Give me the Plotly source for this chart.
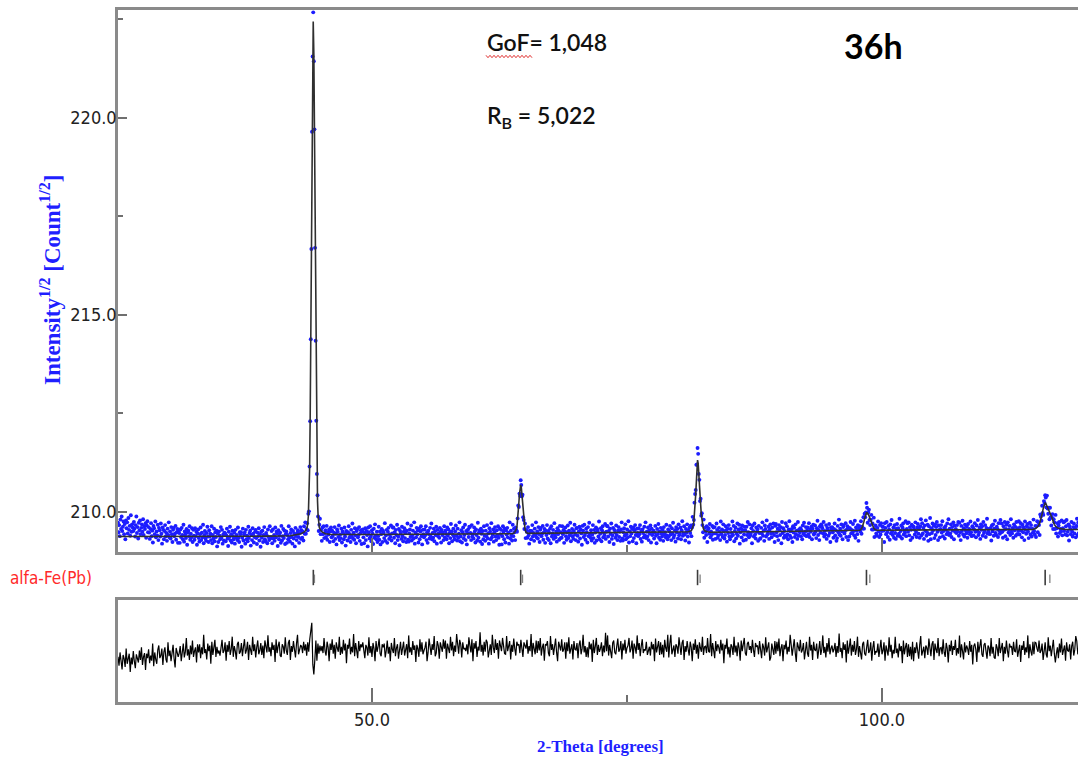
import plotly.graph_objects as go

W, H = 1078, 762

# ---- scan geometry (degrees 2-theta) ----
OBS_START, OBS_STEP = 25.10, 0.06
DIFF_START, DIFF_STEP = 25.10, 0.10
Y_BASE = 209.0          # observed / calculated values are stored in 0.01 units above this

# ---- observed sqrt-intensity, 0.01 units above 209.00 (25 points per row) ----
obs_counts = [
    72, 48, 66, 38, 80, 56, 88, 51, 62, 75, 43, 69, 30, 78, 58, 73, 45, 84, 54, 64, 39, 91, 49, 68, 60,
    51, 74, 57, 37, 66, 88, 46, 61, 32, 72, 53, 78, 43, 59, 68, 49, 81, 41, 63, 56, 71, 34, 65, 76, 48,
    61, 47, 31, 56, 71, 38, 52, 22, 64, 58, 43, 75, 35, 50, 40, 67, 28, 59, 53, 37, 70, 44, 19, 60, 54,
    30, 51, 66, 37, 46, 26, 57, 41, 73, 35, 50, 32, 61, 43, 23, 54, 59, 38, 44, 64, 29, 48, 56, 21, 52,
    46, 21, 55, 36, 59, 41, 30, 67, 24, 50, 42, 33, 56, 16, 48, 52, 38, 63, 29, 44, 35, 58, 23, 54, 39,
    29, 58, 38, 49, 16, 45, 55, 33, 24, 43, 60, 28, 47, 35, 67, 20, 41, 51, 32, 26, 46, 62, 37, 23, 53,
    37, 44, 28, 63, 20, 41, 32, 57, 25, 48, 36, 52, 12, 45, 23, 50, 39, 30, 61, 34, 54, 19, 42, 27, 47,
    45, 25, 40, 57, 32, 13, 49, 36, 62, 27, 43, 22, 52, 38, 30, 47, 19, 54, 35, 41, 28, 60, 33, 23, 48,
    43, 48, 11, 34, 57, 27, 42, 47, 19, 54, 30, 39, 25, 62, 33, 46, 52, 14, 41, 28, 58, 44, 22, 36, 49,
    54, 33, 18, 47, 38, 58, 27, 43, 11, 49, 34, 52, 23, 41, 61, 30, 25, 46, 40, 20, 55, 36, 28, 63, 32,
    36, 51, 20, 55, 32, 41, 26, 60, 35, 49, 45, 13, 53, 30, 39, 47, 21, 64, 27, 38, 56, 33, 52, 18, 43,
    50, 21, 41, 30, 63, 34, 24, 46, 55, 36, 19, 51, 32, 44, 12, 59, 38, 28, 47, 53, 36, 21, 46, 61, 31,
    53, 34, 49, 27, 63, 44, 73, 44, 56, 71, 53, 95, 101, 215, 330, 538, 767, 1065, 1256, 1368, 1244, 1071, 770, 534, 331,
    196, 142, 88, 51, 67, 82, 43, 54, 26, 60, 43, 63, 33, 46, 53, 36, 64, 29, 48, 42, 55, 23, 50, 60, 35,
    52, 39, 25, 47, 61, 31, 44, 17, 55, 49, 36, 65, 28, 42, 33, 57, 22, 50, 45, 30, 60, 37, 14, 51, 46,
    27, 48, 63, 34, 43, 23, 54, 38, 70, 32, 47, 29, 58, 40, 20, 51, 56, 35, 41, 61, 26, 45, 53, 18, 49,
    55, 35, 20, 46, 58, 28, 51, 41, 12, 60, 48, 32, 63, 37, 25, 53, 44, 18, 57, 34, 68, 39, 30, 49, 23,
    38, 62, 29, 50, 17, 43, 56, 23, 52, 47, 33, 71, 26, 40, 54, 21, 49, 59, 31, 42, 36, 65, 27, 45, 60,
    60, 34, 48, 20, 54, 41, 67, 28, 37, 56, 15, 51, 44, 31, 62, 38, 25, 49, 58, 33, 46, 23, 52, 70, 29,
    24, 45, 55, 36, 65, 27, 40, 52, 32, 73, 19, 47, 35, 59, 42, 53, 22, 57, 30, 50, 63, 38, 17, 54, 43,
    35, 55, 40, 63, 28, 48, 21, 52, 43, 32, 59, 37, 70, 30, 46, 34, 57, 25, 50, 41, 62, 19, 54, 38, 45,
    34, 59, 49, 22, 54, 41, 47, 28, 63, 35, 52, 44, 30, 60, 39, 55, 20, 46, 33, 69, 50, 25, 42, 57, 37,
    30, 50, 65, 39, 27, 57, 34, 44, 73, 25, 37, 53, 22, 48, 60, 32, 41, 67, 28, 51, 17, 46, 55, 36, 62,
    61, 46, 28, 66, 37, 43, 32, 60, 50, 22, 55, 41, 27, 72, 34, 48, 53, 24, 57, 44, 18, 51, 30, 63, 39,
    26, 52, 38, 66, 32, 45, 19, 58, 49, 30, 71, 35, 42, 55, 24, 48, 61, 37, 28, 53, 40, 63, 34, 16, 57,
    43, 54, 17, 38, 63, 50, 30, 57, 22, 53, 42, 59, 35, 47, 19, 73, 32, 52, 40, 27, 67, 38, 57, 48, 28,
    60, 53, 49, 83, 116, 112, 146, 140, 180, 168, 139, 143, 86, 79, 56, 70, 33, 54, 49, 34, 61, 40, 19, 52, 48,
    30, 51, 66, 37, 46, 26, 57, 41, 73, 35, 50, 32, 61, 43, 23, 54, 59, 38, 44, 64, 29, 48, 56, 21, 52,
    41, 66, 32, 51, 28, 46, 57, 20, 63, 37, 45, 54, 31, 71, 39, 35, 49, 24, 58, 43, 52, 29, 64, 33, 48,
    34, 63, 43, 54, 21, 50, 60, 38, 29, 48, 65, 33, 52, 40, 72, 25, 46, 56, 37, 31, 51, 67, 42, 28, 58,
    59, 39, 24, 50, 62, 32, 55, 45, 16, 64, 52, 36, 67, 41, 29, 57, 48, 22, 61, 38, 72, 43, 34, 53, 27,
    42, 66, 33, 54, 21, 47, 60, 27, 56, 51, 37, 75, 30, 44, 58, 25, 53, 63, 35, 46, 40, 69, 31, 49, 64,
    63, 37, 51, 23, 57, 44, 70, 31, 40, 59, 18, 54, 47, 34, 65, 41, 28, 52, 61, 36, 49, 26, 55, 73, 32,
    27, 48, 58, 39, 68, 30, 43, 55, 35, 76, 22, 50, 38, 62, 45, 56, 25, 60, 33, 53, 66, 41, 20, 57, 46,
    38, 58, 43, 66, 31, 51, 24, 55, 46, 35, 62, 40, 73, 33, 49, 37, 60, 28, 53, 44, 65, 22, 57, 41, 48,
    52, 32, 47, 64, 39, 20, 56, 43, 69, 34, 50, 29, 59, 45, 37, 54, 26, 61, 42, 48, 35, 67, 40, 30, 55,
    37, 50, 64, 42, 28, 58, 45, 72, 34, 40, 53, 24, 61, 47, 56, 32, 68, 40, 45, 60, 30, 53, 76, 39, 45,
    63, 42, 27, 56, 47, 68, 37, 53, 22, 60, 46, 65, 38, 60, 87, 67, 79, 123, 145, 155, 219, 220, 262, 247, 196,
    181, 127, 133, 90, 96, 66, 48, 80, 34, 59, 50, 41, 63, 23, 54, 58, 44, 69, 35, 50, 41, 64, 29, 60, 45,
    61, 31, 45, 70, 54, 34, 40, 59, 49, 28, 75, 43, 55, 36, 68, 51, 32, 41, 63, 53, 24, 57, 46, 66, 37,
    30, 56, 37, 46, 75, 41, 64, 25, 51, 60, 32, 44, 70, 39, 55, 67, 19, 48, 58, 35, 65, 53, 27, 42, 62,
    53, 29, 62, 41, 74, 48, 35, 68, 39, 44, 58, 20, 65, 51, 37, 70, 42, 32, 60, 49, 55, 26, 64, 46, 31,
    33, 59, 45, 73, 39, 52, 26, 65, 56, 37, 78, 42, 49, 62, 31, 55, 68, 44, 35, 60, 47, 70, 41, 23, 64,
    69, 48, 38, 57, 28, 66, 53, 41, 61, 20, 74, 46, 58, 34, 51, 40, 71, 36, 63, 43, 30, 55, 76, 39, 50,
    34, 56, 23, 63, 47, 59, 36, 68, 43, 52, 31, 74, 39, 55, 48, 58, 38, 53, 30, 65, 45, 72, 41, 50, 61,
    38, 52, 60, 43, 71, 36, 55, 49, 62, 30, 57, 67, 42, 45, 65, 50, 33, 58, 77, 41, 54, 28, 63, 47, 68,
    64, 58, 45, 74, 37, 51, 42, 66, 31, 59, 54, 39, 69, 46, 23, 60, 55, 61, 48, 34, 56, 70, 40, 53, 26,
    33, 64, 48, 80, 42, 57, 39, 68, 50, 30, 61, 66, 45, 51, 71, 36, 55, 63, 28, 59, 37, 58, 74, 45, 54,
    46, 69, 51, 40, 77, 34, 60, 52, 43, 66, 26, 58, 63, 50, 76, 44, 62, 57, 86, 57, 95, 86, 98, 122, 110,
    72, 98, 105, 79, 66, 80, 92, 55, 70, 55, 85, 36, 56, 65, 45, 39, 59, 75, 50, 36, 66, 42, 71, 51, 62,
    62, 52, 23, 71, 59, 43, 74, 48, 36, 64, 55, 29, 68, 45, 79, 50, 41, 60, 34, 66, 46, 31, 57, 69, 39,
    58, 44, 82, 37, 51, 65, 32, 60, 70, 42, 53, 47, 76, 38, 56, 71, 49, 73, 40, 61, 28, 54, 67, 34, 63,
    62, 55, 42, 73, 49, 36, 60, 69, 44, 57, 34, 63, 81, 40, 71, 45, 59, 31, 65, 52, 78, 39, 48, 67, 26,
    63, 43, 84, 30, 58, 46, 70, 53, 64, 33, 68, 41, 61, 74, 49, 28, 65, 54, 35, 56, 66, 47, 76, 38, 51,
    59, 32, 63, 54, 43, 70, 48, 81, 41, 57, 45, 68, 36, 61, 52, 73, 30, 65, 49, 56, 46, 66, 51, 74, 39,
    72, 47, 28, 64, 51, 77, 42, 58, 37, 67, 53, 45, 62, 34, 69, 50, 56, 43, 75, 48, 38, 63, 60, 40, 55,
    71, 49, 35, 65, 52, 79, 41, 47, 60, 31, 68, 54, 63, 39, 74, 46, 51, 66, 36, 59, 82, 45, 50, 44, 57,
    43, 59, 27, 65, 50, 68, 39, 57, 77, 46, 41, 62, 56, 36, 71, 52, 44, 79, 48, 70, 49, 34, 63, 54, 74,
    38, 56, 67, 30, 73, 47, 55, 64, 41, 81, 49, 45, 59, 34, 68, 53, 62, 39, 74, 43, 58, 51, 76, 42, 61,
    71, 52, 35, 67, 48, 60, 28, 75, 54, 44, 63, 69, 49, 33, 58, 72, 42, 66, 37, 57, 47, 80, 51, 42, 64,
    36, 63, 76, 48, 73, 66, 41, 93, 87, 77, 115, 97, 92, 127, 122, 142, 136, 111, 141, 108, 95, 110, 81, 110, 86,
    65, 86, 94, 56, 81, 73, 56, 92, 45, 58, 71, 37, 65, 74, 46, 56, 50, 78, 40, 58, 73, 51, 75, 42, 63,
    79, 40, 49, 68, 27, 63, 56, 43, 74, 50, 37, 61, 70, 45, 58, 35, 64, 82, 41, 72, 46, 60, 32, 66, 53,
]

# ---- calculated profile vertices: (2-theta, 0.01 units above 209.00) ----
calc_points = [
    (25.10, 37), (30.00, 37), (36.00, 37), (40.00, 38), (42.00, 39),
    (43.04, 44), (43.34, 48), (43.52, 53), (43.64, 60), (43.70, 69), (43.76, 89), (43.82, 128),
    (43.88, 202), (43.94, 333), (44.00, 529), (44.06, 781), (44.12, 1047), (44.18, 1263),
    (44.24, 1345), (44.30, 1263), (44.36, 1047), (44.42, 781), (44.48, 529), (44.54, 333),
    (44.60, 202), (44.66, 128), (44.72, 89), (44.78, 69), (44.84, 60), (44.96, 53), (45.14, 48),
    (45.44, 44), (46.00, 42), (50.00, 42), (55.00, 43), (60.00, 43), (63.80, 44),
    (63.98, 47), (64.10, 51), (64.16, 56), (64.22, 64), (64.28, 79), (64.34, 99), (64.40, 122),
    (64.46, 144), (64.52, 162), (64.58, 168), (64.64, 162), (64.70, 144), (64.76, 122),
    (64.82, 99), (64.88, 79), (64.94, 64), (65.00, 56), (65.06, 51), (65.12, 47), (65.30, 45),
    (70.00, 46), (75.00, 46), (79.50, 47),
    (81.00, 49), (81.32, 52), (81.44, 58), (81.50, 65), (81.56, 76), (81.62, 93), (81.68, 116),
    (81.74, 144), (81.80, 174), (81.86, 203), (81.92, 231), (81.98, 223), (82.04, 203),
    (82.10, 177), (82.16, 148), (82.22, 120), (82.28, 96), (82.34, 79), (82.40, 67),
    (82.46, 60), (82.52, 55), (82.64, 51), (82.90, 49), (83.20, 48),
    (88.00, 49), (92.00, 50), (95.00, 51),
    (97.70, 52), (97.82, 53), (97.88, 54), (97.94, 55), (98.00, 57), (98.06, 60), (98.12, 64),
    (98.18, 70), (98.24, 76), (98.30, 83), (98.36, 89), (98.42, 94), (98.48, 97), (98.54, 97),
    (98.60, 96), (98.66, 93), (98.72, 90), (98.78, 86), (98.84, 82), (98.90, 77), (98.96, 72),
    (99.02, 67), (99.08, 63), (99.14, 60), (99.20, 58), (99.32, 55), (99.50, 53),
    (105.00, 54), (110.00, 55), (114.80, 55),
    (115.10, 58), (115.22, 60), (115.34, 64), (115.46, 71), (115.58, 81), (115.70, 94),
    (115.82, 109), (115.94, 120), (116.00, 122), (116.06, 121), (116.18, 115), (116.30, 107),
    (116.42, 100), (116.54, 93), (116.66, 85), (116.78, 75), (116.90, 68), (117.02, 63),
    (117.20, 59), (117.50, 57), (118.00, 55), (119.50, 55),
]

# ---- difference curve Yobs - Ycalc, 0.01 units (20 points per row) ----
diff_counts = [
    -14, -28, -7, -22, -34, -11, -17, -30, -1, -25, -19, -9, -38, -15, -26, -5, -21, -32, -10, -16,
    -23, -4, -19, 1, -27, -14, -8, -35, -9, -16, -2, -24, -12, -20, 7, -29, -7, -18, -25, -3,
    4, -16, -12, -1, -27, -6, 1, -18, -23, 9, -13, -4, -21, -8, 5, -17, -31, 0, -9, -14,
    -8, 3, -21, 0, 7, -15, -6, 16, -12, -2, -19, 4, -10, 12, -14, -5, 1, -23, 6, -7,
    6, -16, 1, -10, 21, -8, -2, -18, 7, -5, 4, -25, 10, -11, 0, 13, -14, 2, -9, -4,
    -12, 1, 13, -8, -4, 9, -20, 5, -6, 11, -11, -2, 18, -14, 3, -5, -18, 6, 10, -9,
    -6, 8, -13, 2, 14, -9, -3, 10, -19, 5, -1, -11, 18, -5, 6, -15, 1, 12, -10, -4,
    8, -11, 4, -16, 12, -1, -7, 20, -6, 1, -13, 9, -3, 5, -22, 14, -8, 3, 10, -12,
    -14, 6, 2, -9, 17, -4, -11, 8, 13, -19, 3, -6, 11, -2, -15, 7, 21, -10, -1, 4,
    3, -8, 10, -4, 6, -12, 9, -6, 14, 24, 40, -26, -42, -18, 12, -20, 7, -9, 4, -5,
    3, -8, 16, -5, -12, 10, 1, -21, 7, -3, 14, -9, 5, -17, 9, 0, -6, 18, -11, 2,
    -9, 13, -4, 7, -24, 5, -1, 15, -10, 2, -7, 22, -13, 8, -3, -16, 11, -5, 6, 1,
    9, -4, -16, 5, 1, -12, 17, -8, 3, -14, 8, -1, -21, 11, -6, 2, 15, -9, -13, 6,
    1, 7, -15, -4, 12, -9, 2, -21, 8, -2, -8, 16, -13, 0, 6, -17, -5, 10, -11, 3,
    10, -12, -5, 6, -16, 20, -7, 1, -11, 11, -3, 4, -22, 5, -1, -14, 14, -6, 9, -10,
    -4, 1, 10, -21, -7, 15, 2, -11, 6, -3, 19, -13, -8, 11, 4, -17, 9, -2, -6, 14,
    -1, 12, -17, 7, 1, -8, 18, -4, 10, -13, 4, -6, 22, 0, -9, 13, 6, -15, 9, -2,
    0, -5, 6, -10, 17, 4, -7, 14, -21, 8, -1, 11, -14, 2, -4, 25, -6, 5, -12, 10,
    -6, 13, 9, -15, -2, 6, -11, 21, 1, -8, 14, -3, 8, -17, 12, -1, -5, 16, 4, -9,
    -10, 19, -5, 1, 11, -18, 5, -6, 15, -1, -12, 10, 4, 6, -8, 13, -2, -14, 9, 3,
    -1, 13, -9, 3, -5, 22, -14, 8, -3, -10, 12, -8, 11, -4, 16, -12, 1, 7, -20, 6,
    4, 11, -8, -13, 19, -3, 6, -11, 2, 15, -7, -21, 10, 1, -4, 14, -6, -2, 9, -17,
    9, -5, 17, -9, 0, 6, -18, 11, -2, -3, 8, -16, 5, 12, -10, -1, 21, -7, 3, -14,
    1, -15, 10, -2, 7, -22, 13, -8, 3, 16, -11, 5, -6, -1, 9, -13, 4, -7, 24, -5,
    20, -12, 5, -3, -16, 8, 12, -7, -10, 3, 15, -6, -2, 11, -18, 7, -4, 13, -9, 0,
    4, 16, -7, -1, 12, -17, 7, 1, -9, 20, -3, 8, -13, 3, 14, -8, -2, -4, 10, -11,
    -5, 2, -12, 10, -2, 6, -21, 15, -7, 4, 11, -11, 9, -10, 5, -15, 13, 0, -6, 21,
    -15, 7, 21, -10, -1, 4, -14, 6, 2, -9, 17, -4, -11, 8, 13, -19, 3, -6, 11, -2,
    -12, 10, 1, -21, 7, -3, 14, -9, 5, -17, 9, 0, -6, 18, -11, 2, 3, -8, 16, -5,
    -7, 22, -13, 8, -3, -16, 11, -5, 6, 1, -9, 13, -4, 7, -24, 5, -1, 15, -10, 2,
    -15, 6, 2, -11, 18, -7, 4, -13, 9, 0, -20, 12, -5, 3, 16, -8, -12, 7, 10, -3,
    3, -8, 13, -3, -14, 8, 2, 4, -10, 11, -4, -16, 7, 1, -12, 17, -7, -1, 9, -20,
    -15, 7, -4, -11, 11, -9, 10, -5, 15, -13, 0, 6, -21, 5, -2, 12, -10, 2, -6, 21,
    5, -12, 1, 14, -8, -22, 9, 0, -5, 13, -7, -3, 8, -18, 3, 10, -9, -14, 18, -4,
    5, -19, 10, -3, -4, 7, -17, 4, 11, -11, -2, 20, -8, 2, -15, 8, -6, 16, -10, -1,
    4, -7, -2, 8, -14, 3, -8, 23, -6, 0, -16, 9, -3, 6, -23, 12, -9, 2, 15, -12,
    5, -6, 11, -11, -2, 18, -14, 3, -5, -18, 6, 10, -9, -12, 1, 13, -8, -4, 9, -20,
    0, 11, -11, -5, -7, 7, -14, 1, 13, -10, -4, 9, -20, 4, -2, -12, 17, -6, 5, -16,
    -3, -9, 18, -8, -1, -15, 7, -5, 3, -24, 12, -10, 1, 8, -14, 6, -13, 2, -18, 10,
    -21, 1, -8, 9, -4, -17, 5, 19, -12, -3, 2, -16, 4, 0, -11, 15, -6, -13, 6, 11,
    -19, 7, -2, -8, 16, -13, 0, 1, -10, 14, -7, -14, 8, -1, -23, 5, -5, 12, -11, 3,
    -3, 13, -12, 0, -9, 20, -15, 6, -5, -18, 9, -7, 4, -1, -11, 11, -6, 5, -26, 3,
    7, -2, -22, 10, -7, 1, 14, -10, -14, 5, 8, -5, -17, 4, 0, -13, 16, -9, 2, -15,
    -17, 6, 0, -13, 16, -8, -2, 8, -21, 2, -9, 12, -4, -15, 7, 1, 3, -11, 10, -5,
    -6, 14, -14, -1, 5, -22, 4, -3, 11, -11, 1, -7, 20, -16, 6, -5, -12, 10, -10, 9,
    8, -1, -6, 12, -8, -4, 7, -19, 2, 9, -10, -15, 17, -5, 4, -13, 0, 13, -9, -23,
    -9, 1, -16, 7, -7, 15, -11, -2, 4, -20, 9, -4, -5, 6, -18, 3, 10, -12, -3, 19,
    11, -10, 1, 14, -13, 3, -8, -3, 7, -15, 2, -9, 22, -7, -1, -17, 8, -4, 5, -24,
]

# ---- Bragg reflections of alfa-Fe(Pb) ----
bragg_ka1 = [44.25, 64.58, 81.92, 98.48, 116.00]
bragg_ka2 = [44.36, 64.76, 82.17, 98.81, 116.46]

# axis tick values
x_major = [50, 100]
x_minor = [75]
y_major = [210, 215, 220]
y_minor = [212.5, 217.5, 222.5]

# ---- derived series ----
obs_theta = [OBS_START + OBS_STEP * i for i in range(len(obs_counts))]
obs_y = [Y_BASE + v / 100 for v in obs_counts]
calc_theta = [p[0] for p in calc_points]
calc_y = [Y_BASE + p[1] / 100 for p in calc_points]
diff_theta = [DIFF_START + DIFF_STEP * i for i in range(len(diff_counts))]
diff_y = [v / 100 for v in diff_counts]


def px(x):
    return x / W


def py(y):
    return 1 - y / H


X_RANGE = [25.10, 119.22]
AXIS_GREY = "#8a8a8a"
TICK_GREY = "#6f6f6f"
NARROW = "Liberation Sans Narrow, DejaVu Sans Condensed, Arial Narrow, Liberation Sans, sans-serif"
SERIF = "Liberation Serif, Times New Roman, serif"
BLUE = "#1f1fff"

fig = go.Figure()

fig.add_trace(go.Scatter(
    x=obs_theta, y=obs_y, mode="markers", xaxis="x", yaxis="y",
    marker=dict(size=3.9, color="#1c1cff", line=dict(width=0)),
    showlegend=False, hoverinfo="skip"))

fig.add_trace(go.Scatter(
    x=calc_theta, y=calc_y, mode="lines", xaxis="x", yaxis="y",
    line=dict(color="#303030", width=1.6),
    showlegend=False, hoverinfo="skip"))

fig.add_trace(go.Scatter(
    x=bragg_ka1, y=[0] * len(bragg_ka1), mode="markers", xaxis="x", yaxis="y3",
    marker=dict(symbol="line-ns", size=11, line=dict(width=1.6, color="#3c3c3c")),
    showlegend=False, hoverinfo="skip"))

fig.add_trace(go.Scatter(
    x=bragg_ka2, y=[-0.1] * len(bragg_ka2), mode="markers", xaxis="x", yaxis="y3",
    marker=dict(symbol="line-ns", size=6, line=dict(width=1.3, color="#808080")),
    showlegend=False, hoverinfo="skip"))

fig.add_trace(go.Scatter(
    x=diff_theta, y=diff_y, mode="lines", xaxis="x2", yaxis="y2",
    line=dict(color="#000000", width=1.2),
    showlegend=False, hoverinfo="skip"))

tick_font = dict(family=NARROW, size=18, color="#222222")

fig.update_layout(
    width=W, height=H,
    margin=dict(l=0, r=0, t=0, b=0),
    paper_bgcolor="white", plot_bgcolor="white",
    xaxis=dict(
        domain=[px(118), 1.0], range=X_RANGE, anchor="y",
        showline=True, mirror=True, linecolor=AXIS_GREY, linewidth=2.5,
        ticks="inside", tickmode="array", tickvals=x_major, ticklen=14,
        tickwidth=1.5, tickcolor=TICK_GREY, showticklabels=False,
        minor=dict(tickmode="array", tickvals=x_minor, ticks="inside", ticklen=7,
                   tickwidth=1.5, tickcolor=TICK_GREY),
        showgrid=False, zeroline=False),
    yaxis=dict(
        domain=[py(551.7), py(10)], range=[208.985, 222.74], anchor="x",
        showline=True, linecolor=AXIS_GREY, linewidth=2.5,
        ticks="inside", tickmode="array", tickvals=y_major, tickformat=".1f",
        ticklen=9, tickwidth=1.5, tickcolor=TICK_GREY, tickfont=tick_font,
        ticklabelstandoff=-5,
        minor=dict(tickmode="array", tickvals=y_minor, ticks="inside", ticklen=5,
                   tickwidth=1.5, tickcolor=TICK_GREY),
        showgrid=False, zeroline=False),
    yaxis3=dict(domain=[py(590), py(565)], range=[-1, 1], anchor="x",
                visible=False, fixedrange=True),
    xaxis2=dict(
        domain=[px(118), 1.0], range=X_RANGE, anchor="y2",
        showline=True, mirror=True, linecolor=AXIS_GREY, linewidth=2.5,
        ticks="inside", tickmode="array", tickvals=x_major, tickformat=".1f",
        ticklen=14, tickwidth=1.5, tickcolor=TICK_GREY, tickfont=tick_font,
        ticklabelstandoff=0,
        minor=dict(tickmode="array", tickvals=x_minor, ticks="inside", ticklen=7,
                   tickwidth=1.5, tickcolor=TICK_GREY),
        showgrid=False, zeroline=False),
    yaxis2=dict(
        domain=[py(701.7), py(600)], range=[-0.852, 0.762], anchor="x2",
        showline=True, linecolor=AXIS_GREY, linewidth=2.5,
        ticks="", showticklabels=False, showgrid=False, zeroline=False),
)

annotations = [
    dict(text="Intensity<sup>1/2</sup> [Count<sup>1/2</sup>]", x=px(50), y=py(279),
         textangle=-90, font=dict(family=SERIF, size=23, color=BLUE, weight="bold")),
    dict(text="2-Theta [degrees]", x=px(600), y=py(746),
         font=dict(family=SERIF, size=17, color=BLUE, weight="bold")),
    dict(text="alfa-Fe(Pb)", x=px(51), y=py(578),
         font=dict(family=NARROW, size=17, color="#ff2a2a")),
    dict(text="GoF= 1,048", x=px(485), y=py(42), xanchor="left",
         font=dict(family="Lato, Carlito, sans-serif", size=23, color="#111111",
                   weight=600)),
    dict(text="R<sub>B</sub> = 5,022", x=px(485), y=py(117), xanchor="left",
         font=dict(family="Lato, Carlito, sans-serif", size=23, color="#111111",
                   weight=600)),
    dict(text="36h", x=px(873), y=py(45),
         font=dict(family="Lato, Carlito, sans-serif", size=34, color="#000000",
                   weight="bold")),
]
for a in annotations:
    a.setdefault("xanchor", "center")
    a.update(xref="paper", yref="paper", yanchor="middle", showarrow=False)
fig.update_layout(annotations=annotations)

# red wavy spell-check underline below "GoF"
wave = []
for k, xp in enumerate(range(486, 534, 2)):
    wave.append(f"{px(xp):.5f},{py(56.5 + (1.2 if k % 2 else -1.2)):.5f}")
fig.add_shape(type="path", xref="paper", yref="paper",
              path="M " + " L ".join(wave),
              line=dict(color="#e03030", width=1))

fig.write_html("out.html")
